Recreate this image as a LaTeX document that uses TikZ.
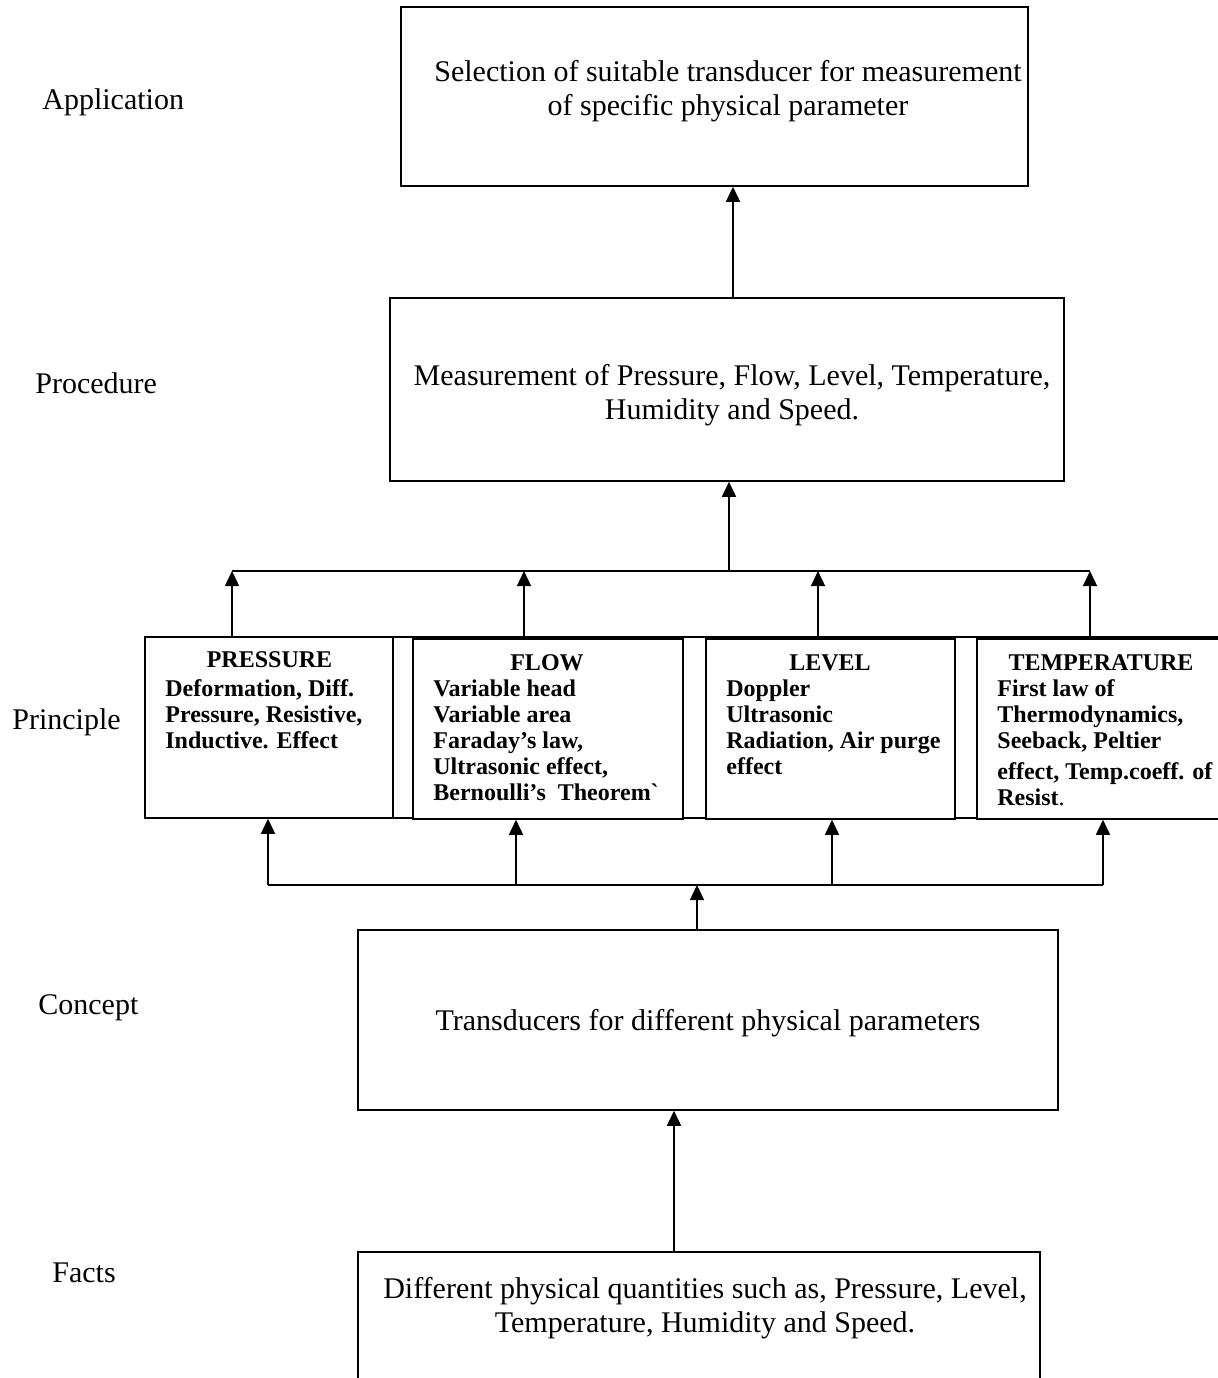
\documentclass[tikz,border=0pt]{standalone}
\usepackage{fontspec}
\setmainfont{Liberation Serif}
\usetikzlibrary{arrows.meta}
\tikzset{
 box/.style={draw, line width=0.75pt, inner sep=0pt, fill=white},
 maintxt/.style={align=center, font=\fontsize{15}{17}\selectfont, inner sep=0pt},
 lbl/.style={font=\fontsize{15}{17}\selectfont, inner sep=0pt, anchor=base west},
 head/.style={font=\bfseries\fontsize{12}{13}\selectfont, inner sep=0pt},
 body/.style={font=\bfseries\fontsize{12}{13}\selectfont, align=left, inner sep=0pt, anchor=north west},
 arr/.style={-{Triangle[width=7pt,length=7.5pt]}, line width=0.75pt},
 ln/.style={line width=0.75pt}
}
\begin{document}
\begin{tikzpicture}[x=0.5pt,y=-0.5pt]
\useasboundingbox (0,0) rectangle (1218,1378);
\clip (0,0) rectangle (1218,1378);
% side labels
\node[lbl] (lapp) at (42,109) {Application};
\node[lbl] (lproc) at (35,393) {Procedure};
\node[lbl] (lprin) at (12,729) {Principle};
\node[lbl] (lconc) at (38,1014) {Concept};
\node[lbl] (lfact) at (52,1282) {Facts};
% main boxes
\node[box, minimum width=313.5pt, minimum height=89.5pt] (app) at (714.5,96.5) {};
\node[maintxt] (apptxt) at (728,91) {Selection of suitable transducer for measurement\\ of specific physical parameter};
\node[box, minimum width=337pt, minimum height=91.5pt] (proc) at (727,389.5) {};
\node[maintxt] (proctxt) at (732,395) {Measurement of Pressure, Flow, Level, Temperature,\\ Humidity and Speed.};
% principle row
\node[box, minimum width=547.5pt, minimum height=90.5pt] (prin) at (692.5,727.5) {};
\node[box, minimum width=124pt, minimum height=90.5pt] (pres) at (269,727.5) {};
\node[box, minimum width=135pt, minimum height=90pt] (flow) at (548,729) {};
\node[box, minimum width=124.5pt, minimum height=90pt] (level) at (830.5,729) {};
\node[box, minimum width=131.5pt, minimum height=90pt] (temp) at (1108.5,729) {};
\node[head] (hpres) at (269.5,660) {PRESSURE};
\node[head] (hflow) at (547,663) {FLOW};
\node[head] (hlevel) at (830,663) {LEVEL};
\node[head] (htemp) at (1101,663) {TEMPERATURE};
\node[body] (bpres) at (165,679) {Deformation, Diff.\\ Pressure, Resistive,\\ Inductive. Effect};
\node[body] (bflow) at (433,679) {Variable head\\ Variable area\\ Faraday’s law,\\ Ultrasonic effect,\\ Bernoulli’s\ \ Theorem\textasciigrave};
\node[body] (blevel) at (726,679) {Doppler\\ Ultrasonic\\ Radiation, Air purge\\ effect};
\node[body] (btemp) at (997,679) {First law of\\ Thermodynamics,\\ Seeback, Peltier\\[2.5pt] effect, Temp.coeff. of\\ Resist{\mdseries.}};
% concept and facts
\node[box, minimum width=350pt, minimum height=90pt] (conc) at (708,1020) {};
\node[maintxt] (conctxt) at (708,1023) {Transducers for different physical parameters};
\node[box, minimum width=341pt, minimum height=99pt] (facts) at (699,1351) {};
\node[maintxt] (factstxt) at (705,1308) {Different physical quantities such as, Pressure, Level,\\ Temperature, Humidity and Speed.};
% connectors top
\coordinate (c1) at (733,0);
\draw[arr] (c1 |- proc.north) -- (c1 |- app.south);
\coordinate (busL) at (232,571);
\coordinate (busF) at (524,571);
\coordinate (busM) at (729,571);
\coordinate (busV) at (818,571);
\coordinate (busR) at (1090,571);
\draw[ln] (busL) -- (busR);
\draw[arr] (busM) -- (busM |- proc.south);
\draw[arr] (busL |- pres.north) -- (busL);
\draw[arr] (busF |- flow.north) -- (busF);
\draw[arr] (busV |- level.north) -- (busV);
\draw[arr] (busR |- temp.north) -- (busR);
% connectors bottom
\coordinate (lbL) at (268,885);
\coordinate (lbF) at (516,885);
\coordinate (lbM) at (697,885);
\coordinate (lbV) at (832,885);
\coordinate (lbR) at (1103,885);
\draw[ln] (lbL) -- (lbR);
\draw[arr] (lbM |- conc.north) -- (lbM);
\draw[arr] (lbL) -- (lbL |- pres.south);
\draw[arr] (lbF) -- (lbF |- flow.south);
\draw[arr] (lbV) -- (lbV |- level.south);
\draw[arr] (lbR) -- (lbR |- temp.south);
\coordinate (c2) at (674,0);
\draw[arr] (c2 |- facts.north) -- (c2 |- conc.south);
\end{tikzpicture}
\end{document}
